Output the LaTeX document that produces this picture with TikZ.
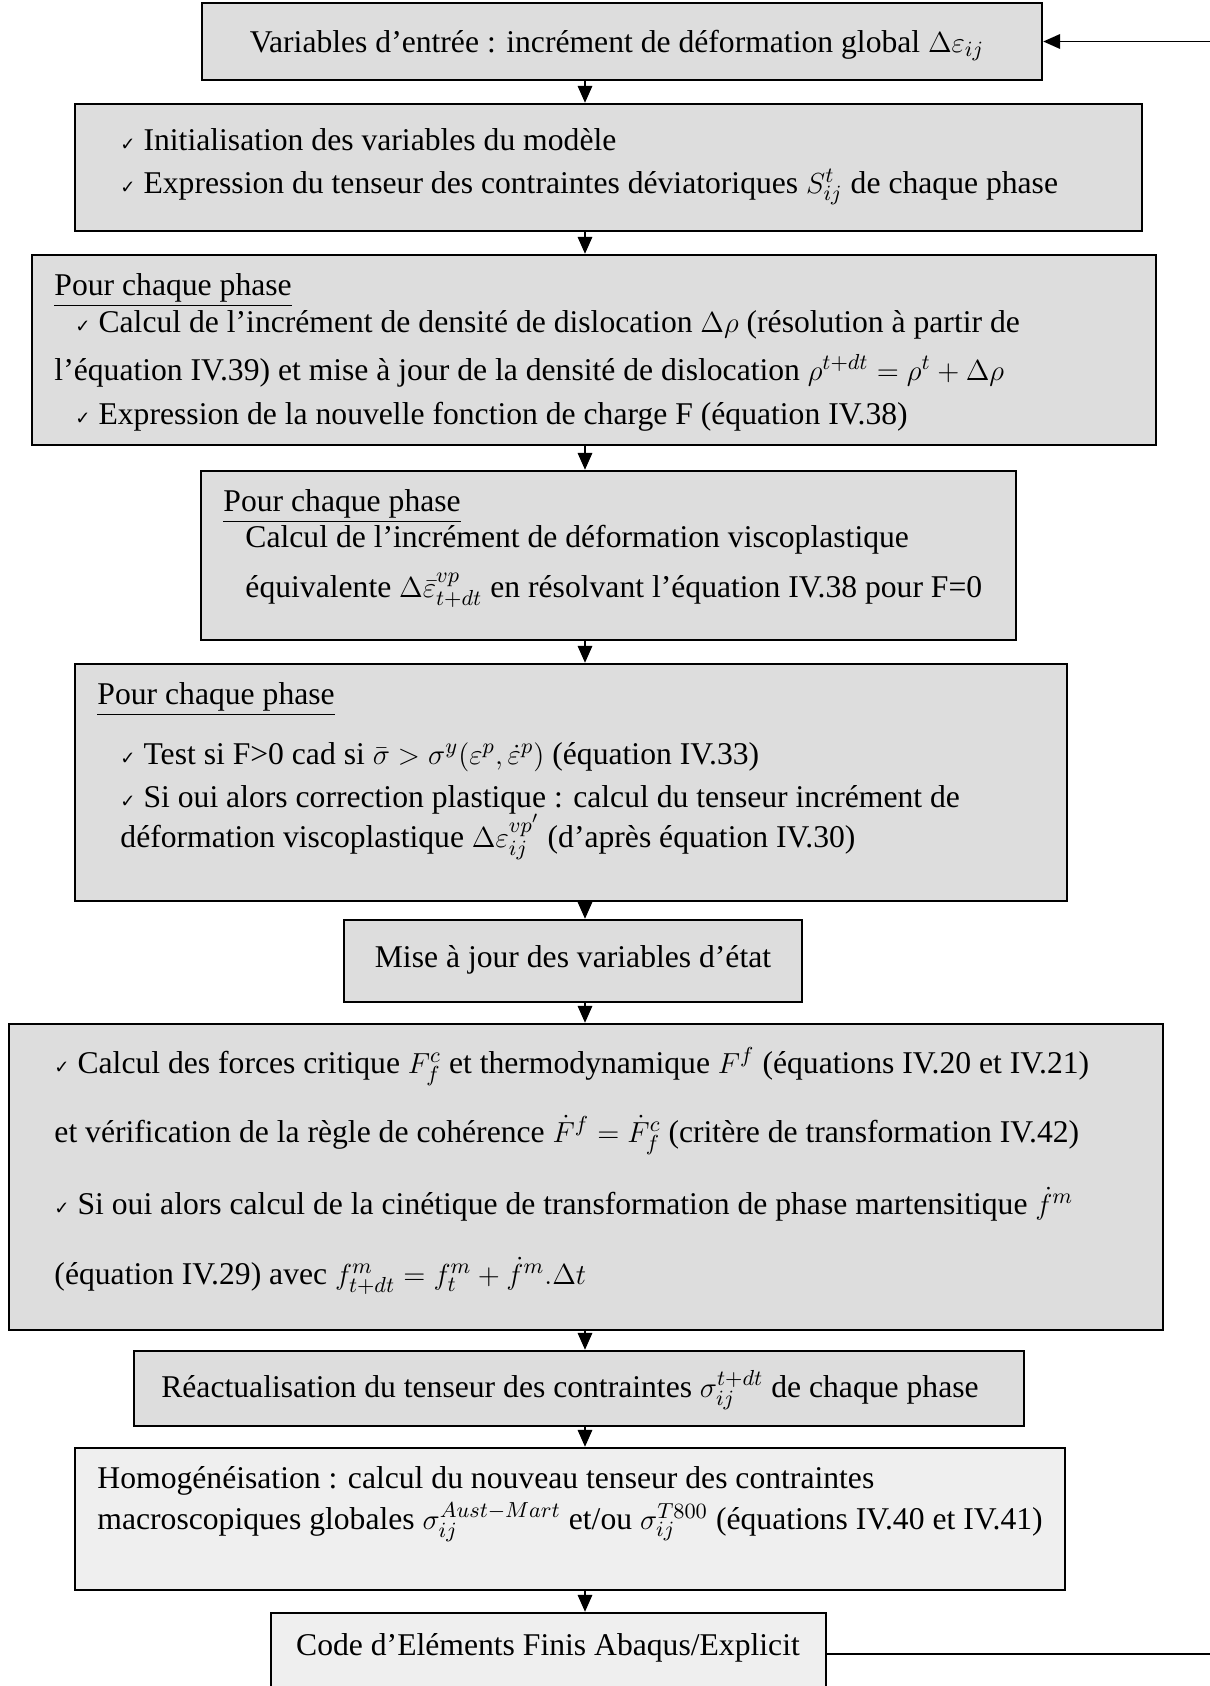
\documentclass[tikz,border=0pt]{standalone}
\usepackage{fontspec}
\setmainfont{Liberation Serif}
\newfontfamily\symfnt{DejaVu Sans}
\usetikzlibrary{arrows.meta}
\definecolor{boxgray}{HTML}{DDDDDD}
\definecolor{boxlight}{HTML}{EFEFEF}
\tikzset{
  box/.style={draw, line width=1pt, inner sep=0pt},
  txt/.style={inner sep=0pt, font=\fontsize{13.1}{15}\selectfont},
  flow/.style={line width=0.7pt, -{Triangle[length=7pt,width=6pt]}},
}
\newcommand{\coche}{{\symfnt\fontsize{7.5}{7.5}\selectfont ✓}\ }
\begin{document}
\begin{tikzpicture}[x=0.414pt,y=-0.414pt]
\useasboundingbox (0,0) rectangle (1209,1686);
% boxes: name/centre x/centre y/width/height/fill
\foreach \n/\cx/\cy/\w/\h/\f in {b1/622/41.5/840/77/boxgray, b2/608.5/167.5/1067/127/boxgray,
    b3/594/350/1124/190/boxgray, b4/608.5/555.5/815/169/boxgray, b5/571/782.5/992/237/boxgray,
    b6/573/961/458/82/boxgray, b7/586/1177/1154/306/boxgray, b8/579/1388.5/890/75/boxgray,
    b9/570/1519/990/142/boxlight, b10/548.5/1654/555/82/boxlight} {
    \node[box, fill=\f, minimum width=\w*0.414pt, minimum height=\h*0.414pt] (\n) at (\cx,\cy) {};
}
\coordinate (spine) at (585,0);
\coordinate (ret) at (1230,0);
\foreach \a/\b in {b1/b2, b2/b3, b3/b4, b4/b5, b5/b6, b6/b7, b7/b8, b8/b9, b9/b10} {
    \draw[flow] (\a.south -| spine) -- (\b.north -| spine);
}
% retour vers le haut
\draw[flow, line width=0.8pt] (b10.east) -- (b10.east -| ret) -- (b1.east -| ret) -- (b1.east);

\node[txt, anchor=base] (t1) at (617,52) {Variables d’entrée : incrément de déformation global $\Delta\varepsilon_{ij}$};

\node[txt, anchor=base west] (t2a) at (120,150) {\coche Initialisation des variables du modèle};
\node[txt, anchor=base west] (t2b) at (120,193) {\coche Expression du tenseur des contraintes déviatoriques $S_{ij}^{t}$ de chaque phase};

\node[txt, anchor=base west] (t3a) at (54,295) {\underline{Pour chaque phase}};
\node[txt, anchor=base west] (t3b) at (75,332) {\coche Calcul de l’incrément de densité de dislocation $\Delta\rho$ (résolution à partir de};
\node[txt, anchor=base west] (t3c) at (54,380) {l’équation IV.39) et mise à jour de la densité de dislocation $\rho^{t+dt}=\rho^{t}+\Delta\rho$};
\node[txt, anchor=base west] (t3d) at (75,424) {\coche Expression de la nouvelle fonction de charge F (équation IV.38)};

\node[txt, anchor=base west] (t4a) at (223,511) {\underline{Pour chaque phase}};
\node[txt, anchor=base west] (t4b) at (245,547) {Calcul de l’incrément de déformation viscoplastique};
\node[txt, anchor=base west] (t4c) at (245,597) {équivalente $\Delta\bar{\varepsilon}_{t+dt}^{vp}$ en résolvant l’équation IV.38 pour F=0};

\node[txt, anchor=base west] (t5a) at (97,704) {\underline{Pour chaque phase}};
\node[txt, anchor=base west] (t5b) at (120,764) {\coche Test si F>0 cad si $\bar{\sigma}>\sigma^{y}(\varepsilon^{p},\dot{\varepsilon}^{p})$ (équation IV.33)};
\node[txt, anchor=base west] (t5c) at (120,807) {\coche Si oui alors correction plastique : calcul du tenseur incrément de};
\node[txt, anchor=base west] (t5d) at (120,847) {déformation viscoplastique $\Delta\varepsilon_{ij}^{vp'}$ (d’après équation IV.30)};

\node[txt, anchor=base] (t6) at (573,967) {Mise à jour des variables d’état};

\node[txt, anchor=base west] (t7a) at (54,1073) {\coche Calcul des forces critique $F_{f}^{c}$ et thermodynamique $F^{f}$ (équations IV.20 et IV.21)};
\node[txt, anchor=base west] (t7b) at (54,1142) {et vérification de la règle de cohérence $\dot{F}^{f}=\dot{F}_{f}^{c}$ (critère de transformation IV.42)};
\node[txt, anchor=base west] (t7c) at (54,1214) {\coche Si oui alors calcul de la cinétique de transformation de phase martensitique $\dot{f}^{m}$};
\node[txt, anchor=base west] (t7d) at (54,1284) {(équation IV.29) avec $f_{t+dt}^{m}=f_{t}^{m}+\dot{f}^{m}.\Delta t$};

\node[txt, anchor=base] (t8) at (570,1397) {Réactualisation du tenseur des contraintes $\sigma_{ij}^{t+dt}$ de chaque phase};

\node[txt, anchor=base west] (t9a) at (97,1488) {Homogénéisation : calcul du nouveau tenseur des contraintes};
\node[txt, anchor=base west] (t9b) at (97,1529) {macroscopiques globales $\sigma_{ij}^{Aust-Mart}$ et/ou $\sigma_{ij}^{T800}$ (équations IV.40 et IV.41)};

\node[txt, anchor=base] (t10) at (548,1655) {Code d’Eléments Finis Abaqus/Explicit};
\end{tikzpicture}
\end{document}
